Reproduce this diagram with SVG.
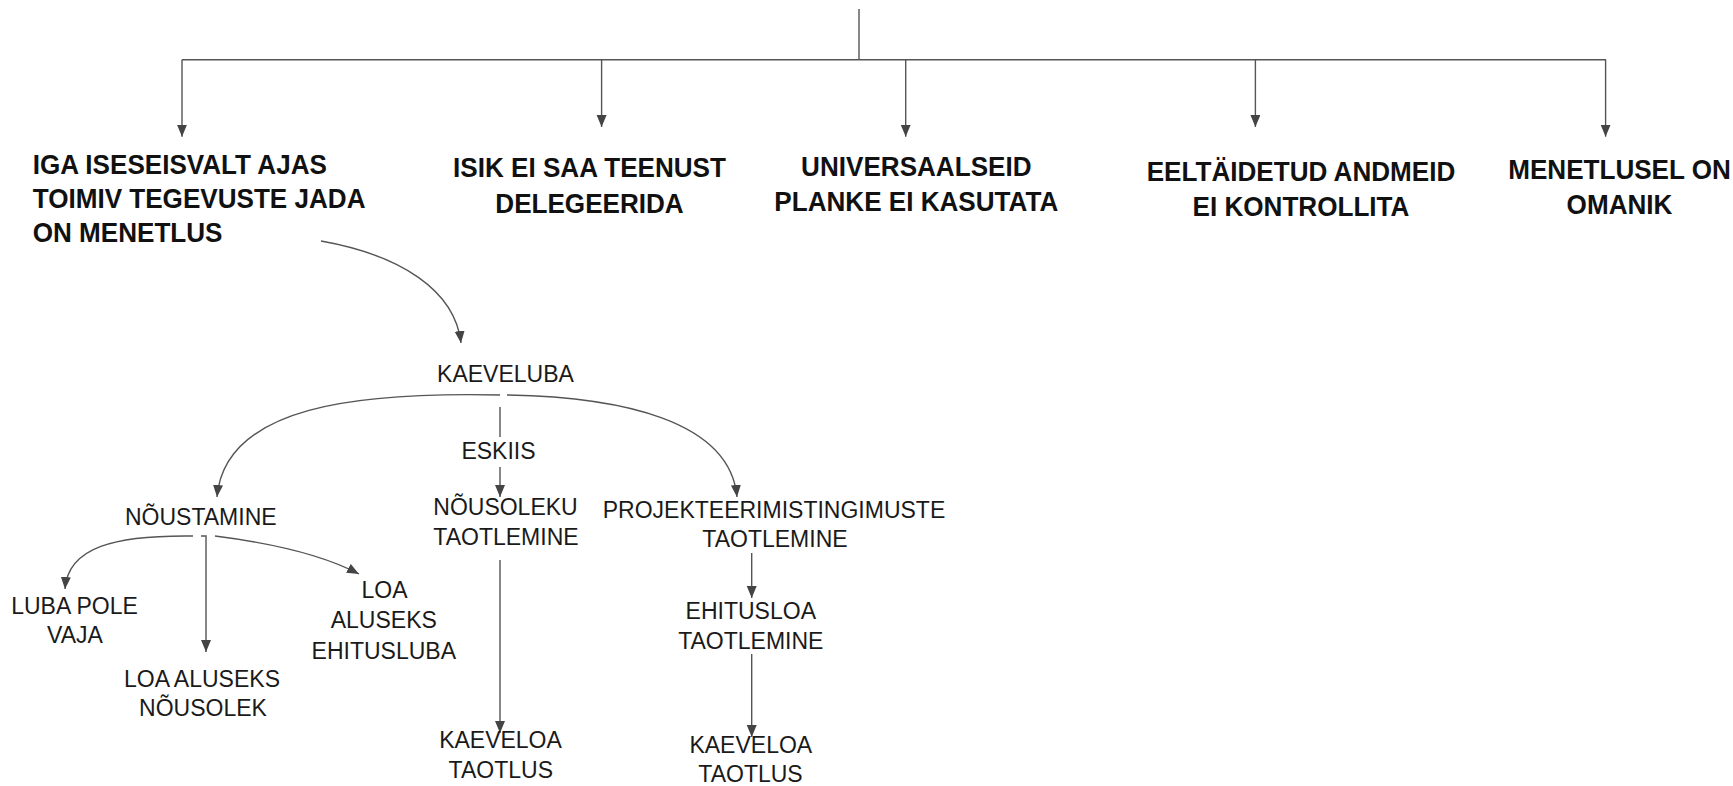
<svg xmlns="http://www.w3.org/2000/svg" width="1733" height="786" viewBox="0 0 1733 786">
<style>
.t{font-family:"Liberation Sans",Arial,sans-serif;font-weight:bold;font-size:28px;fill:#111}
.n{font-family:"Liberation Sans",Arial,sans-serif;font-size:23px;fill:#1a1a1a;text-anchor:middle}
.c{fill:none;stroke:#555;stroke-width:1.4}
.a{marker-end:url(#ah)}
</style>
<defs>
<marker id="ah" markerUnits="userSpaceOnUse" markerWidth="13" markerHeight="11" refX="12" refY="5" orient="auto" viewBox="0 0 13 11">
<path d="M0,0 L12,5 L0,10 z" fill="#444"/>
</marker>
</defs>
<rect width="1733" height="786" fill="#fff"/>
<g id="connectors">
<path class="c" d="M859,9 V59.7 M182,59.7 H1606"/>
<path class="c a" d="M182,59.7 V136.7"/>
<path class="c a" d="M601.6,59.7 V127"/>
<path class="c a" d="M905.7,59.7 V136.7"/>
<path class="c a" d="M1255.4,59.7 V127"/>
<path class="c a" d="M1605.6,59.7 V136.7"/>
<path class="c a" d="M321,241 C400,255 455,290 461,343"/>
<path class="c a" d="M500,395 C360,392 225,405 217,497"/>
<path class="c a" d="M507,395 C620,397 730,420 737,497"/>
<path class="c" d="M500,407 V437"/>
<path class="c a" d="M500,467 V497"/>
<path class="c a" d="M500,560 V733"/>
<path class="c a" d="M751.7,553 V598"/>
<path class="c a" d="M751.7,654 V737"/>
<path class="c a" d="M193,536 C115,535 68,547 65,589"/>
<path class="c a" d="M201,536 H206 V652"/>
<path class="c a" d="M215,536 Q310,548 359,574"/>
</g>
<g id="n1" transform="translate(32.7 0) scale(0.932 1)">
<text class="t" x="0" y="174.3">IGA ISESEISVALT AJAS</text>
<text class="t" x="0" y="208">TOIMIV TEGEVUSTE JADA</text>
<text class="t" x="0" y="241.7">ON MENETLUS</text>
</g>
<g id="n2" transform="translate(589.5 0) scale(0.932 1)" text-anchor="middle">
<text class="t" x="0" y="177.3">ISIK EI SAA TEENUST</text>
<text class="t" x="0" y="212.7">DELEGEERIDA</text>
</g>
<g id="n3" transform="translate(916.3 0) scale(0.932 1)" text-anchor="middle">
<text class="t" x="0" y="175.7">UNIVERSAALSEID</text>
<text class="t" x="0" y="210.7">PLANKE EI KASUTATA</text>
</g>
<g id="n4" transform="translate(1301 0) scale(0.932 1)" text-anchor="middle">
<text class="t" x="0" y="180.7">EELTÄIDETUD ANDMEID</text>
<text class="t" x="0" y="216">EI KONTROLLITA</text>
</g>
<g id="n5" transform="translate(1619.5 0) scale(0.932 1)" text-anchor="middle">
<text class="t" x="0" y="179">MENETLUSEL ON</text>
<text class="t" x="0" y="214">OMANIK</text>
</g>
<g id="kaeveluba"><text class="n" x="505.5" y="382">KAEVELUBA</text></g>
<g id="eskiis"><text class="n" x="498.5" y="459">ESKIIS</text></g>
<g id="nousoleku"><text class="n" x="505.5" y="515">NÕUSOLEKU</text><text class="n" x="506" y="545">TAOTLEMINE</text></g>
<g id="kaeveloa1"><text class="n" x="500.5" y="748.3">KAEVELOA</text><text class="n" x="500.8" y="778.3">TAOTLUS</text></g>
<g id="projekt"><text class="n" x="774" y="518.3">PROJEKTEERIMISTINGIMUSTE</text><text class="n" x="775" y="546.7">TAOTLEMINE</text></g>
<g id="ehitusloa"><text class="n" x="750.8" y="619.3">EHITUSLOA</text><text class="n" x="750.8" y="649.3">TAOTLEMINE</text></g>
<g id="kaeveloa2"><text class="n" x="750.8" y="752.7">KAEVELOA</text><text class="n" x="750.5" y="781.7">TAOTLUS</text></g>
<g id="noustamine"><text class="n" x="200.8" y="525">NÕUSTAMINE</text></g>
<g id="lubapole"><text class="n" x="74.5" y="614">LUBA POLE</text><text class="n" x="75" y="643.3">VAJA</text></g>
<g id="loanousolek"><text class="n" x="202" y="686.7">LOA ALUSEKS</text><text class="n" x="203" y="716">NÕUSOLEK</text></g>
<g id="loaehitusluba"><text class="n" x="384.5" y="598.3">LOA</text><text class="n" x="383.8" y="628.3">ALUSEKS</text><text class="n" x="383.8" y="659.3">EHITUSLUBA</text></g>
</svg>
